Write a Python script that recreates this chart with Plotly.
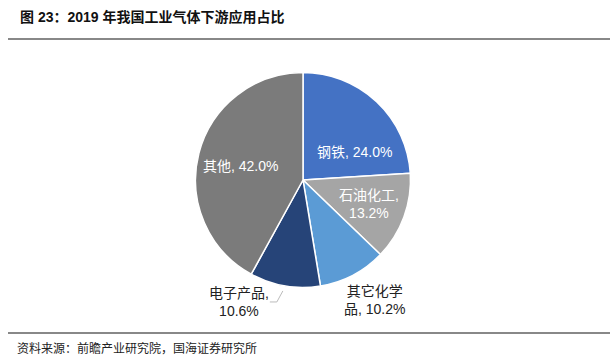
import math
import plotly.graph_objects as go

categories = ["钢铁", "石油化工", "其它化学品", "电子产品", "其他"]
values = [24.0, 13.2, 10.2, 10.6, 42.0]
label_texts = ["钢铁, 24.0%", "石油化工,<br>13.2%", "其它化学<br>品, 10.2%", "电子产品,<br>10.6%", "其他, 42.0%"]
colors = ["#4472C4", "#A5A5A5", "#5B9BD5", "#264478", "#7B7B7B"]
label_colors = ["white", "white", "#222222", "#222222", "white"]

W, H = 614, 364
CX, CY, R = 303, 180, 107.5  # pie centre / radius in px
FONT = "Liberation Sans, Noto Sans CJK SC, sans-serif"

fig = go.Figure(go.Pie(
    labels=categories,
    values=values,
    textinfo="none",
    sort=False,
    direction="clockwise",
    rotation=0,
    marker=dict(colors=colors, line=dict(color="white", width=1.5)),
    domain=dict(x=[(CX - R) / W, (CX + R) / W], y=[(H - CY - R) / H, (H - CY + R) / H]),
    showlegend=False,
    hoverinfo="label+percent",
))

def px(x, y):
    return x / W, 1 - y / H

# label placement: offset (px) from the slice's mid-angle point on the rim
total = sum(values)
cum = 0
mids = []
for v in values:
    mids.append((cum + v / 2) / total * 2 * math.pi)
    cum += v

offsets = [(-22, 50), (-35, -13), (21, 25), (-46, 16), (42, 13)]
annotations = []
shapes = []
for i, (dx, dy) in enumerate(offsets):
    a = mids[i]
    ex, ey = CX + R * math.sin(a), CY - R * math.cos(a)
    lx, ly = px(ex + dx, ey + dy)
    annotations.append(dict(text=label_texts[i], x=lx, y=ly, xref="paper", yref="paper",
                            xanchor="center", yanchor="middle", showarrow=False, align="center",
                            font=dict(family=FONT, size=14, color=label_colors[i])))
    if i == 3:
        p0 = px(ex - 2, ey + 5)
        p1 = px(ex - 8, ey + 16)
        p2 = px(ex - 15, ey + 16)
        shapes.append(dict(type="path", xref="paper", yref="paper",
                           path=f"M {p0[0]},{p0[1]} L {p1[0]},{p1[1]} L {p2[0]},{p2[1]}",
                           line=dict(color="#BBBBBB", width=1)))

annotations += [
    dict(text="<b>图 23：2019 年我国工业气体下游应用占比</b>", x=18 / W, y=1 - 17 / H,
         xref="paper", yref="paper", xanchor="left", yanchor="middle",
         showarrow=False, font=dict(family="Liberation Sans, Noto Sans CJK SC", size=14, color="#111111")),
    dict(text="资料来源：前瞻产业研究院，国海证券研究所", x=15 / W, y=1 - 347 / H,
         xref="paper", yref="paper", xanchor="left", yanchor="middle",
         showarrow=False, font=dict(family="Noto Sans CJK SC", size=12, color="#222222")),
]
shapes += [
    dict(type="line", xref="paper", yref="paper", x0=8 / W, x1=610 / W, y0=1 - 39 / H, y1=1 - 39 / H,
         line=dict(color="#888888", width=2)),
    dict(type="line", xref="paper", yref="paper", x0=8 / W, x1=610 / W, y0=1 - 333 / H, y1=1 - 333 / H,
         line=dict(color="#888888", width=2)),
]

fig.update_layout(
    width=W, height=H,
    margin=dict(l=0, r=0, t=0, b=0),
    paper_bgcolor="white",
    plot_bgcolor="white",
    font=dict(family=FONT),
    annotations=annotations,
    shapes=shapes,
)

fig.write_html("out.html", config={"displayModeBar": False})

with open("out.html", encoding="utf-8") as f:
    html = f.read()
html = html.replace("<head>", "<head><style>html,body{margin:0;padding:0;overflow:hidden}</style>", 1)
with open("out.html", "w", encoding="utf-8") as f:
    f.write(html)
